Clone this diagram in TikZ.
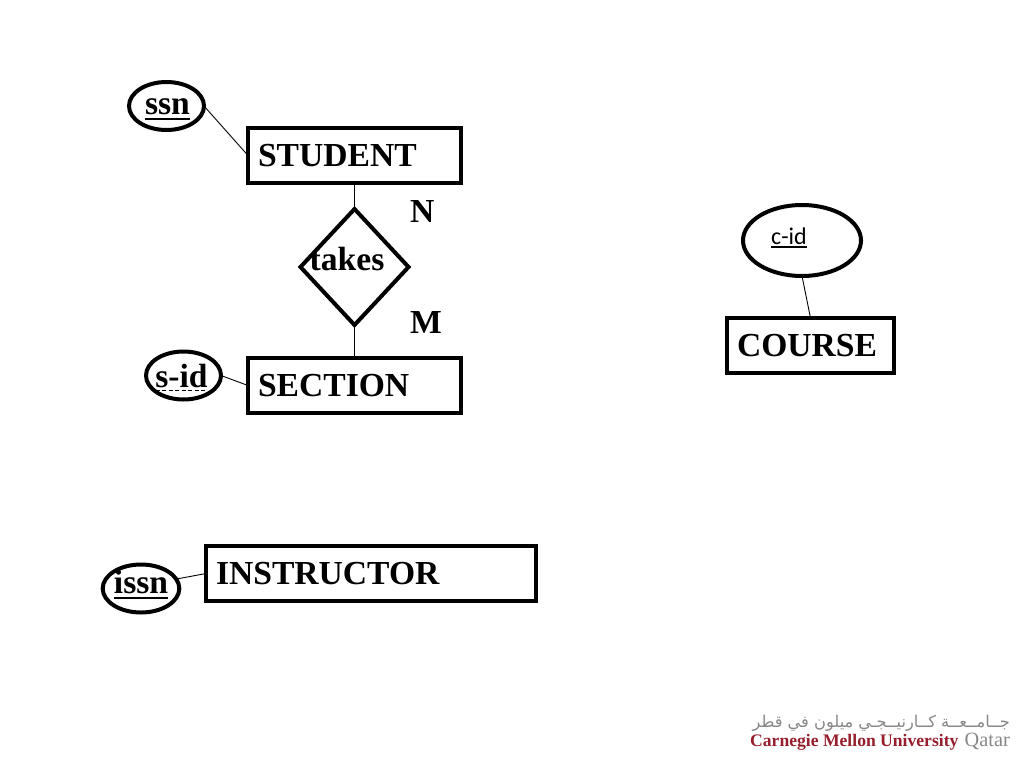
\documentclass[tikz,border=0pt]{standalone}
\usepackage{fontspec}
\setmainfont{Liberation Serif}
\newfontfamily\cidfont{Carlito}
\newfontfamily\arabicfont[Script=Arabic]{DejaVu Sans}
\TeXXeTstate=1
\usetikzlibrary{shapes.geometric}
\definecolor{cmured}{RGB}{150,30,45}
\definecolor{cmugray}{RGB}{135,135,135}
\newlength\attrwd
\newcommand{\keyline}[2][6pt]{\settowidth{\attrwd}{#2}\rlap{\rule[-#1]{\attrwd}{1.6pt}}#2}
\newcommand{\partkey}[1]{\settowidth{\attrwd}{#1}\rlap{\hbox to \attrwd{\xleaders\hbox{\rule[-3.8pt]{4pt}{1.2pt}\kern2pt}\hfill}}#1}
\tikzset{
  erfont/.style={font=\fontsize{33.6}{36}\selectfont\bfseries},
  entitybox/.style={draw, line width=4pt, erfont, anchor=base west, inner xsep=10pt, inner ysep=0pt, outer sep=0pt, text height=38pt, text depth=17pt, align=left},
  attrib/.style={draw, ellipse, line width=4pt, erfont, inner sep=0pt, outer sep=0pt, minimum width=75pt, minimum height=48pt},
  relation/.style={draw, diamond, aspect=0.93, line width=4pt, erfont, inner sep=0pt, outer sep=0pt, minimum width=108pt, minimum height=116pt},
  cardinal/.style={erfont, anchor=base west, inner sep=0pt},
  link/.style={line width=0.9pt}
}
\begin{document}
\begin{tikzpicture}[x=1pt,y=-1pt]
\useasboundingbox (0,0) rectangle (1024,768);

\node[entitybox, text width=193pt] (student) at (248,166) {STUDENT};
\node[entitybox, text width=193pt] (section) at (248,396) {SECTION};
\node[entitybox, text width=310pt] (instructor) at (206,584) {INSTRUCTOR};
\node[entitybox, text width=147pt] (course) at (727,356) {COURSE};

\node[relation, text height=6pt, text depth=0pt] (takes) at (354.5,267) {takes\kern15pt};
\node[cardinal] (cardn) at (410,222) {N};
\node[cardinal] (cardm) at (410,333) {M};

\node[attrib, text height=16pt, text depth=0pt] (ssn) at (166.5,106) {\kern2pt\keyline{ssn}};
\node[attrib, text height=23pt, text depth=0pt] (sid) at (183.5,375.5) {\kern-4pt\partkey{s-id}};
\node[attrib, text height=9pt, text depth=0pt] (issn) at (141,588.5) {\keyline{issn}};
\node[attrib, minimum width=118pt, minimum height=71pt, font=\fontsize{24}{26}\cidfont, text height=7pt, text depth=0pt] (cid) at (802,240.5) {\keyline[4pt]{c-id}\kern26pt};

\draw[link] (ssn.east) -- (student.west);
\draw[link] (student.south) -- (takes.north);
\draw[link] (takes.south) -- (section.north);
\draw[link] (sid.east) -- (section.west);
\draw[link] (issn.15) -- (instructor.west);
\draw[link] (cid.south) -- (course.north);

% logo, bottom right
\node[anchor=base east, inner sep=0pt, text=cmugray, font=\fontsize{16.2}{18}\arabicfont] (logoar) at (1010,727) {\beginR جــامــعــة كــارنيــجـي ميلون في قطر\endR};
\node[anchor=base west, inner sep=0pt, text=cmured, font=\fontsize{17.6}{19}\selectfont\bfseries] (logocmu) at (750,746) {Carnegie Mellon University};
\node[anchor=base east, inner sep=0pt, text=cmugray, font=\fontsize{20.3}{22}\selectfont] (logoqatar) at (1010,746) {Qatar};
\end{tikzpicture}
\end{document}
